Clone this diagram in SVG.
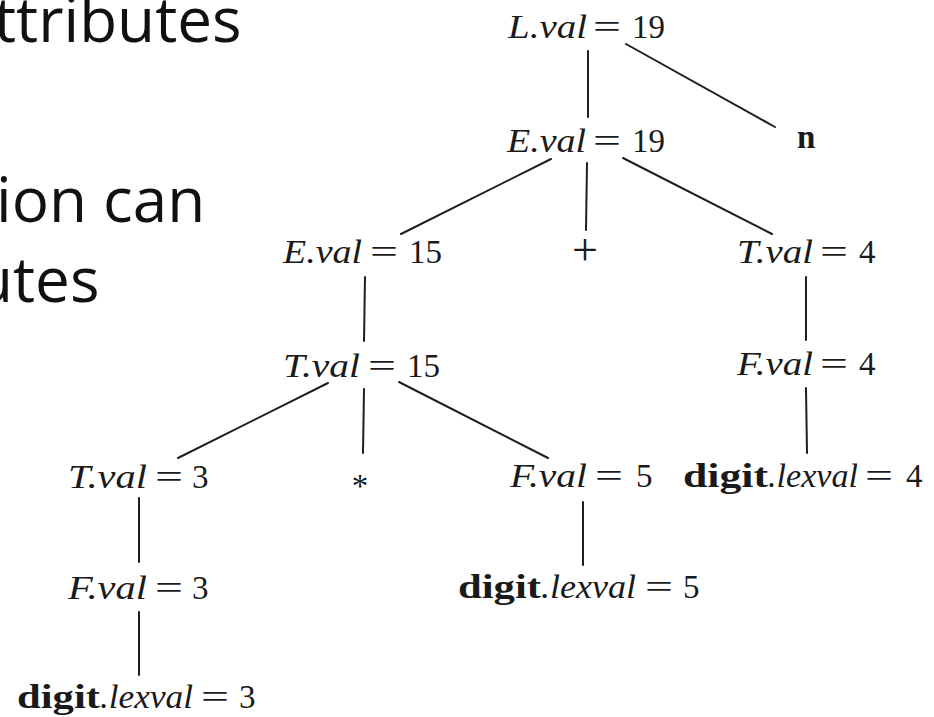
<svg xmlns="http://www.w3.org/2000/svg" width="934" height="717" viewBox="0 0 934 717">
<style>
.bg{fill:#ffffff}
.slide{font-family:"Open Sans","Noto Sans",sans-serif;font-size:62px;fill:#111111}
.v{font-family:"Liberation Serif","DejaVu Serif",serif;font-style:italic;font-size:33px;fill:#1a1a1a}
.r{font-family:"Liberation Serif","DejaVu Serif",serif;font-size:33px;fill:#1a1a1a}
.b{font-family:"Liberation Serif","DejaVu Serif",serif;font-weight:bold;font-size:33px;fill:#1a1a1a}
.op{font-family:"Liberation Serif","DejaVu Serif",serif;font-size:46px;fill:#1a1a1a}
.edge{stroke:#1e1e1e;stroke-width:2;fill:none;stroke-linecap:round}
</style>
<rect class="bg" x="0" y="0" width="934" height="717"/>
<g id="slide-text">
<text class="slide" x="-6" y="42">ttributes</text>
<text class="slide" x="-4" y="222">ion can</text>
<text class="slide" x="-25" y="302">utes</text>
</g>
<g id="connectors">
<line class="edge" x1="588" y1="51" x2="588" y2="117"/>
<line class="edge" x1="626" y1="44" x2="775" y2="127"/>
<line class="edge" x1="551" y1="159" x2="401" y2="234"/>
<line class="edge" x1="587" y1="163" x2="586" y2="230"/>
<line class="edge" x1="623" y1="158" x2="772" y2="234"/>
<line class="edge" x1="365" y1="277" x2="364" y2="341"/>
<line class="edge" x1="806" y1="277" x2="806" y2="340"/>
<line class="edge" x1="328" y1="383" x2="178" y2="458"/>
<line class="edge" x1="364" y1="389" x2="363" y2="453"/>
<line class="edge" x1="399" y1="382" x2="548" y2="458"/>
<line class="edge" x1="806" y1="388" x2="807" y2="453"/>
<line class="edge" x1="139" y1="498" x2="139" y2="562"/>
<line class="edge" x1="583" y1="502" x2="583" y2="565"/>
<line class="edge" x1="139" y1="612" x2="139" y2="675"/>
</g>
<g id="node-L">
<text class="v" x="508" y="38" textLength="79" lengthAdjust="spacingAndGlyphs">L.val</text>
<text class="r" x="593" y="38" textLength="28" lengthAdjust="spacingAndGlyphs">=</text>
<text class="r" x="632" y="38">19</text>
</g>
<g id="node-n">
<text class="b" x="797" y="148">n</text>
</g>
<g id="node-E19">
<text class="v" x="507" y="152" textLength="79" lengthAdjust="spacingAndGlyphs">E.val</text>
<text class="r" x="593" y="152" textLength="28" lengthAdjust="spacingAndGlyphs">=</text>
<text class="r" x="632" y="152">19</text>
</g>
<g id="node-E15">
<text class="v" x="283" y="263" textLength="79" lengthAdjust="spacingAndGlyphs">E.val</text>
<text class="r" x="370" y="263" textLength="28" lengthAdjust="spacingAndGlyphs">=</text>
<text class="r" x="409" y="263">15</text>
</g>
<g id="node-plus">
<text class="op" x="585" y="265" text-anchor="middle">+</text>
</g>
<g id="node-T4">
<text class="v" x="737" y="263" textLength="76" lengthAdjust="spacingAndGlyphs">T.val</text>
<text class="r" x="820" y="263" textLength="28" lengthAdjust="spacingAndGlyphs">=</text>
<text class="r" x="859" y="263">4</text>
</g>
<g id="node-T15">
<text class="v" x="283" y="377" textLength="77" lengthAdjust="spacingAndGlyphs">T.val</text>
<text class="r" x="368" y="377" textLength="28" lengthAdjust="spacingAndGlyphs">=</text>
<text class="r" x="407" y="377">15</text>
</g>
<g id="node-F4">
<text class="v" x="737" y="375" textLength="76" lengthAdjust="spacingAndGlyphs">F.val</text>
<text class="r" x="820" y="375" textLength="28" lengthAdjust="spacingAndGlyphs">=</text>
<text class="r" x="859" y="375">4</text>
</g>
<g id="node-T3">
<text class="v" x="68" y="488" textLength="79" lengthAdjust="spacingAndGlyphs">T.val</text>
<text class="r" x="155" y="488" textLength="28" lengthAdjust="spacingAndGlyphs">=</text>
<text class="r" x="192" y="488">3</text>
</g>
<g id="node-star">
<text class="r" x="360" y="497" text-anchor="middle" font-size="38">*</text>
</g>
<g id="node-F5">
<text class="v" x="510" y="487" textLength="77" lengthAdjust="spacingAndGlyphs">F.val</text>
<text class="r" x="595" y="487" textLength="28" lengthAdjust="spacingAndGlyphs">=</text>
<text class="r" x="636" y="487">5</text>
</g>
<g id="node-digit4">
<text class="b" x="683" y="487" textLength="85" lengthAdjust="spacingAndGlyphs">digit</text>
<text class="v" x="768" y="487" textLength="90" lengthAdjust="spacingAndGlyphs">.lexval</text>
<text class="r" x="865" y="487" textLength="28" lengthAdjust="spacingAndGlyphs">=</text>
<text class="r" x="906" y="487">4</text>
</g>
<g id="node-F3">
<text class="v" x="68" y="599" textLength="79" lengthAdjust="spacingAndGlyphs">F.val</text>
<text class="r" x="155" y="599" textLength="28" lengthAdjust="spacingAndGlyphs">=</text>
<text class="r" x="192" y="599">3</text>
</g>
<g id="node-digit5">
<text class="b" x="458" y="598" textLength="83" lengthAdjust="spacingAndGlyphs">digit</text>
<text class="v" x="541" y="598" textLength="95" lengthAdjust="spacingAndGlyphs">.lexval</text>
<text class="r" x="645" y="598" textLength="28" lengthAdjust="spacingAndGlyphs">=</text>
<text class="r" x="683" y="598">5</text>
</g>
<g id="node-digit3">
<text class="b" x="17" y="708" textLength="83" lengthAdjust="spacingAndGlyphs">digit</text>
<text class="v" x="100" y="708" textLength="93" lengthAdjust="spacingAndGlyphs">.lexval</text>
<text class="r" x="201" y="708" textLength="28" lengthAdjust="spacingAndGlyphs">=</text>
<text class="r" x="239" y="708">3</text>
</g>
</svg>
